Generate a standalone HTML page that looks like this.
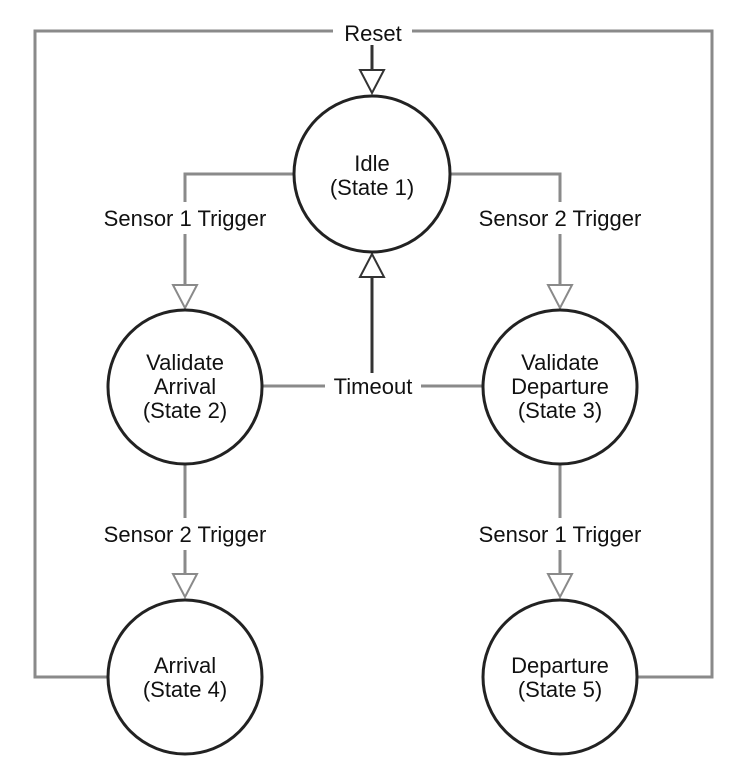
<!DOCTYPE html>
<html><head><style>
html,body{margin:0;padding:0;background:#fff;}
svg text{font-family:"Liberation Sans",Arial,sans-serif;font-size:22px;fill:#111;text-anchor:middle;}
</style></head><body>
<svg width="745" height="775" viewBox="0 0 745 775" xmlns="http://www.w3.org/2000/svg">
<g fill="none" stroke="#8a8a8a" stroke-width="3">
<polyline points="333,31 35,31 35,677 108,677"/>
<polyline points="412,31 712,31 712,677 637,677"/>
<polyline points="294,174 185,174 185,202"/>
<line x1="185" y1="234" x2="185" y2="285"/>
<polyline points="450,174 560,174 560,202"/>
<line x1="560" y1="234" x2="560" y2="285"/>
<line x1="262" y1="386" x2="325" y2="386"/>
<line x1="421" y1="386" x2="483" y2="386"/>
<line x1="185" y1="465" x2="185" y2="518"/>
<line x1="185" y1="550" x2="185" y2="574"/>
<line x1="560" y1="465" x2="560" y2="518"/>
<line x1="560" y1="550" x2="560" y2="574"/>
<polygon points="173,285 197,285 185,308" stroke-width="2"/>
<polygon points="548,285 572,285 560,308" stroke-width="2"/>
<polygon points="173,574 197,574 185,597" stroke-width="2"/>
<polygon points="548,574 572,574 560,597" stroke-width="2"/>
</g>
<g fill="none" stroke="#333" stroke-width="3">
<line x1="372" y1="45" x2="372" y2="70"/>
<polygon points="360,70 384,70 372,93" stroke-width="2"/>
<line x1="372" y1="373" x2="372" y2="277"/>
<polygon points="360,277 384,277 372,254" stroke-width="2"/>
</g>
<g fill="#fff" stroke="#222" stroke-width="3">
<circle cx="372" cy="174" r="78"/>
<circle cx="185" cy="387" r="77"/>
<circle cx="560" cy="387" r="77"/>
<circle cx="185" cy="677" r="77"/>
<circle cx="560" cy="677" r="77"/>
</g>
<text x="373" y="41">Reset</text>
<text x="372" y="171">Idle</text>
<text x="372" y="195">(State 1)</text>
<text x="185" y="226">Sensor 1 Trigger</text>
<text x="560" y="226">Sensor 2 Trigger</text>
<text x="185" y="370">Validate</text>
<text x="185" y="394">Arrival</text>
<text x="185" y="418">(State 2)</text>
<text x="560" y="370">Validate</text>
<text x="560" y="394">Departure</text>
<text x="560" y="418">(State 3)</text>
<text x="373" y="394">Timeout</text>
<text x="185" y="542">Sensor 2 Trigger</text>
<text x="560" y="542">Sensor 1 Trigger</text>
<text x="185" y="673">Arrival</text>
<text x="185" y="697">(State 4)</text>
<text x="560" y="673">Departure</text>
<text x="560" y="697">(State 5)</text>
</svg>
</body></html>
